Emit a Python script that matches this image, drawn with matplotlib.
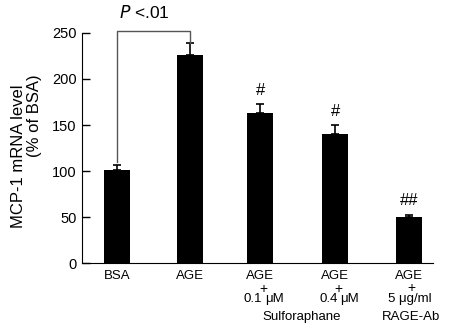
import matplotlib.pyplot as plt

plt.rcParams['font.family'] = ['Liberation Sans', 'DejaVu Sans']

groups = ['BSA', 'AGE', 'AGE', 'AGE', 'AGE']
doses = [None, None, ('0.1', 'μM'), ('0.4', 'μM'), None]
means = [101.5, 226.5, 163.5, 140, 50.5]
errors = [4.5, 13, 9, 10, 2]
marks = ['', '', '#', '#', '##']

x = [0, 1.0, 1.96, 2.99, 4.0]

fig = plt.figure(figsize=(4.52, 3.35), dpi=100)
ax = fig.add_axes([0.1814, 0.2149, 0.7766, 0.6866])

ax.bar(x, means, width=0.35, color='black', zorder=2)
ax.errorbar(x, means, yerr=[[0] * len(means), errors], fmt='none',
            ecolor='black', elinewidth=1.2, capsize=3, capthick=1.2, zorder=1)

ax.set_xlim(-0.48, 4.33)
ax.set_ylim(0, 250)
ax.set_yticks([0, 50, 100, 150, 200, 250])
ax.tick_params(axis='y', direction='in', length=6, width=1, labelsize=10.5, pad=4)
ax.set_xticks([])
for side in ['top', 'right']:
    ax.spines[side].set_visible(False)

# y label, two lines placed separately
fig.text(19 / 452, 1 - 156 / 335, 'MCP-1 mRNA level', rotation=90,
         ha='center', va='center', fontsize=12)
fig.text(35 / 452, 1 - 116 / 335, '(% of BSA)', rotation=90,
         ha='center', va='center', fontsize=12)

# significance marks above the treated bars
for xi, m, e, mark in zip(x, means, errors, marks):
    if mark:
        ax.text(xi, m + e + 7, mark, ha='center', va='bottom', fontsize=12)

# bracket BSA vs AGE
top = 252.5
ax.plot([x[0], x[0], x[1], x[1]],
        [110, top, top, means[1] + errors[1]],
        color='#555555', lw=1, clip_on=False)
ax.text(0.37, 266, '$P$ <.01', ha='center', va='baseline',
        fontsize=12.5, clip_on=False)

# category labels under the axis
tr = ax.get_xaxis_transform()
lab = dict(transform=tr, va='center', fontsize=9.5)
plus = dict(lab, fontsize=10)
for xi, g, d in zip(x, groups, doses):
    ax.text(xi, -0.055, g, ha='center', **lab)
    if d:
        ax.text(xi + 0.05, -0.113, '+', ha='center', **plus)
        ax.text(xi + 0.03, -0.155, d[0], ha='right', **lab)
        ax.text(xi + 0.07, -0.155, d[1], ha='left', **lab)
ax.text(x[4] + 0.03, -0.11, '+', ha='center', **plus)
ax.text(x[4] + 0.01, -0.155, '5 μg/ml', ha='center', **lab)
ax.text((x[2] + x[3]) / 2 + 0.05, -0.235, 'Sulforaphane', ha='center', **lab)
ax.text(x[4] + 0.03, -0.235, 'RAGE-Ab', ha='center', **lab)

fig.savefig('out.png', dpi=100)
